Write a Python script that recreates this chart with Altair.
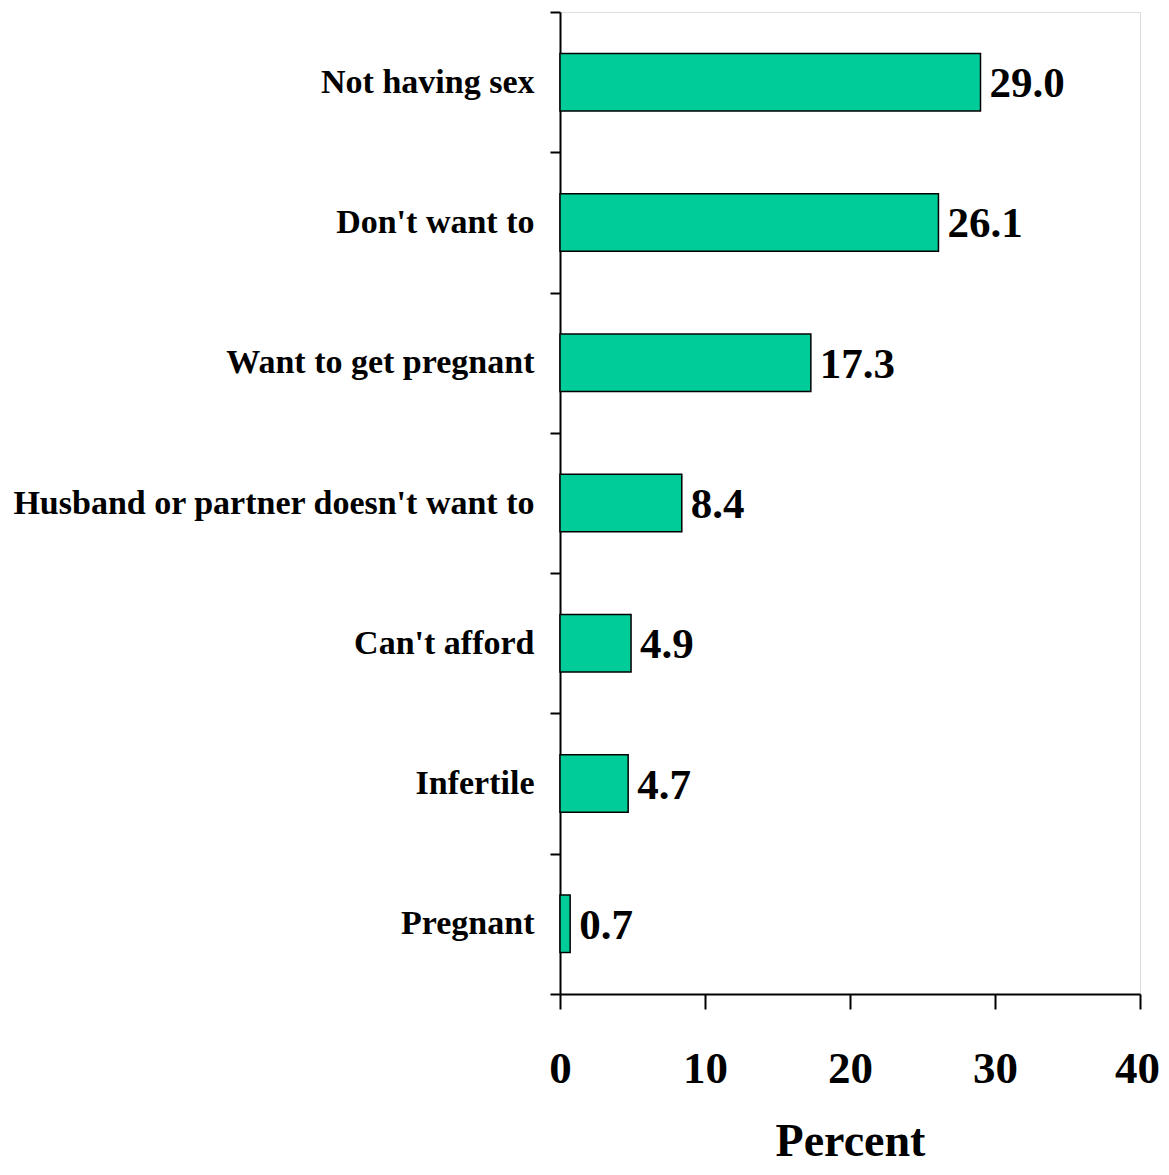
import altair as alt
import pandas as pd

categories = [
    "Not having sex",
    "Don't want to",
    "Want to get pregnant",
    "Husband or partner doesn't want to",
    "Can't afford",
    "Infertile",
    "Pregnant",
]
values = [29.0, 26.1, 17.3, 8.4, 4.9, 4.7, 0.7]
x_ticks = [0, 10, 20, 30, 40]

df = pd.DataFrame({"reason": categories, "pct": values})
df["label"] = [f"{v:.1f}" for v in values]

FONT = "Liberation Serif"

y_enc = alt.Y(
    "reason:N",
    sort=categories,
    scale=alt.Scale(paddingInner=0, paddingOuter=0),
    axis=alt.Axis(
        title=None,
        tickBand="extent",
        tickSize=10,
        tickWidth=2,
        tickColor="black",
        domainColor="black",
        domainWidth=2,
        labelFont=FONT,
        labelFontWeight="bold",
        labelFontSize=34,
        labelColor="black",
        labelPadding=16,
        labelLimit=0,
        grid=False,
    ),
)

x_enc = alt.X(
    "pct:Q",
    scale=alt.Scale(domain=[0, 40], nice=False),
    axis=alt.Axis(
        values=x_ticks,
        title="Percent",
        titleFont=FONT,
        titleFontWeight="bold",
        titleFontSize=46,
        titleColor="black",
        titlePadding=28,
        tickSize=15,
        tickWidth=2,
        tickColor="black",
        domainColor="black",
        domainWidth=2,
        labelFont=FONT,
        labelFontWeight="bold",
        labelFontSize=45,
        labelColor="black",
        labelPadding=37,
        labelFlush=False,
        labelOffset={"condition": {"test": "datum.value == 40", "value": -3}, "value": 0},
        grid=False,
    ),
)

bars = alt.Chart(df).mark_bar(
    color="#00CC99", stroke="black", strokeWidth=1.5, height={"band": 0.41}
).encode(x=x_enc, y=y_enc)

text = alt.Chart(df).mark_text(
    align="left",
    baseline="middle",
    dx=9,
    dy=2,
    font=FONT,
    fontWeight="bold",
    fontSize=43,
    color="black",
).encode(x="pct:Q", y=alt.Y("reason:N", sort=categories), text="label:N")

chart = (
    (bars + text)
    .properties(
        width=580,
        height=982,
        autosize=alt.AutoSizeParams(type="none"),
        padding={"left": 552, "top": 4, "right": 21, "bottom": 173},
    )
    .configure_view(strokeWidth=0, stroke="#ffffff", strokeOpacity=0)
    .configure(background="white")
)

chart.save("out.html", embed_options={"renderer": "svg", "actions": False})
